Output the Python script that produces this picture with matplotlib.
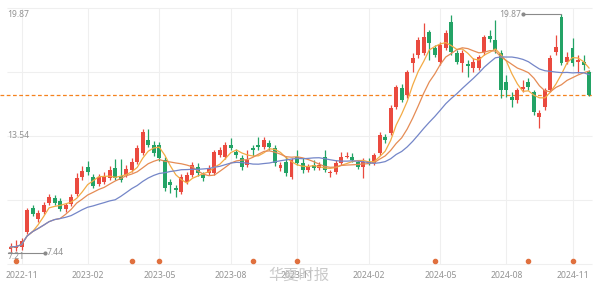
import matplotlib.pyplot as plt
import numpy as np
import pandas as pd

plt.rcParams['font.family'] = ['Noto Sans', 'Noto Sans CJK SC', 'DejaVu Sans']

# weekly candles, 2022-10 .. 2024-11
opens = [7.63, 7.68, 7.73, 8.51, 9.77, 9.19, 9.56, 10.03, 10.29, 10.13,
         9.72, 9.98, 10.50, 11.39, 11.91, 11.39, 11.02, 11.13, 11.33, 11.86,
         11.44, 11.49, 11.75, 12.17, 12.64, 13.32, 13.06, 13.06, 12.27, 11.13,
         10.81, 10.60, 11.13, 11.49, 11.91, 11.49, 11.60, 11.60, 12.53, 12.43,
         13.06, 12.69, 12.38, 12.01, 12.90, 13.06, 12.95, 13.16, 12.90, 11.86,
         12.17, 11.39, 12.43, 12.12, 11.75, 12.01, 11.86, 12.43, 11.60, 11.65,
         12.12, 12.43, 12.43, 12.17, 11.91, 12.17, 12.12, 12.64, 13.47, 13.68,
         15.04, 16.03, 15.67, 17.34, 17.76, 17.86, 18.96, 18.12, 17.39, 18.12,
         19.48, 17.86, 17.34, 17.29, 17.08, 17.08, 17.91, 18.75, 18.54, 17.86,
         16.35, 15.56, 15.41, 15.98, 16.35, 15.82, 14.52, 15.04, 15.93, 17.91,
         19.74, 17.39, 18.12, 17.39, 17.39, 16.87]
highs = [7.94, 8.10, 8.20, 9.77, 9.92, 9.66, 10.08, 10.50, 10.45, 10.29,
         10.03, 10.50, 11.60, 11.96, 12.22, 11.54, 11.54, 11.65, 11.96, 12.33,
         12.33, 12.01, 12.38, 13.06, 13.89, 13.89, 13.27, 13.21, 12.43, 11.28,
         10.97, 11.54, 11.65, 12.17, 12.12, 11.65, 12.01, 12.80, 12.95, 13.21,
         13.42, 12.85, 12.53, 12.80, 13.06, 13.47, 13.47, 13.32, 13.06, 12.17,
         12.48, 12.38, 12.80, 12.38, 12.06, 12.27, 12.17, 12.80, 11.75, 12.27,
         12.69, 12.69, 12.64, 12.27, 12.38, 12.38, 12.64, 13.74, 13.63, 15.15,
         16.19, 16.24, 16.97, 17.86, 18.70, 19.43, 19.06, 18.28, 18.43, 19.06,
         19.84, 18.02, 18.02, 17.49, 17.60, 17.76, 18.80, 19.06, 19.58, 18.02,
         16.71, 15.82, 16.03, 16.45, 16.55, 15.93, 14.88, 16.03, 17.76, 18.80,
         19.87, 17.91, 18.64, 17.76, 17.76, 16.97]
lows = [7.44, 7.52, 7.57, 8.41, 9.35, 9.04, 9.45, 9.92, 9.92, 9.61,
        9.56, 9.87, 10.39, 11.23, 11.49, 10.81, 10.92, 11.02, 11.23, 11.23,
        11.13, 11.39, 11.65, 12.06, 12.53, 12.95, 12.48, 12.22, 10.66, 10.55,
        10.34, 10.50, 11.02, 11.39, 11.44, 11.18, 11.49, 11.49, 12.43, 12.33,
        12.80, 12.38, 11.75, 11.91, 12.48, 12.80, 12.85, 12.80, 11.96, 11.70,
        11.44, 11.28, 12.01, 11.60, 11.65, 11.75, 11.75, 11.65, 11.39, 11.54,
        12.01, 12.38, 12.17, 11.80, 11.33, 12.01, 12.01, 12.53, 13.16, 13.58,
        14.94, 15.30, 15.51, 16.87, 17.60, 17.76, 17.49, 17.65, 17.23, 18.02,
        17.76, 17.29, 16.87, 16.61, 16.87, 16.97, 17.76, 18.43, 17.86, 15.51,
        15.56, 15.04, 15.25, 15.82, 15.93, 14.62, 13.94, 14.88, 15.82, 17.76,
        17.23, 17.29, 17.18, 16.82, 16.97, 15.62]
closes = [7.73, 7.78, 8.04, 9.66, 9.45, 9.51, 9.92, 10.34, 10.03, 9.72,
          9.92, 10.34, 11.33, 11.70, 11.65, 10.92, 11.39, 11.44, 11.75, 11.33,
          11.23, 11.80, 12.17, 12.90, 13.74, 13.06, 12.64, 12.38, 10.81, 10.97,
          10.71, 11.39, 11.49, 12.01, 11.60, 11.33, 11.86, 12.69, 12.80, 13.06,
          12.90, 12.53, 11.91, 12.27, 12.80, 12.95, 13.32, 12.95, 12.12, 12.01,
          11.60, 12.27, 12.12, 11.75, 11.91, 11.86, 12.01, 11.75, 11.65, 12.12,
          12.43, 12.48, 12.27, 11.91, 12.17, 12.06, 12.53, 13.58, 13.32, 14.99,
          16.08, 15.41, 16.87, 17.60, 18.54, 18.70, 18.38, 17.76, 18.28, 18.90,
          17.91, 17.39, 17.86, 17.18, 17.39, 17.65, 18.70, 18.59, 18.02, 15.93,
          15.93, 15.41, 15.93, 16.08, 16.08, 14.78, 14.73, 15.93, 17.60, 18.17,
          17.34, 17.65, 17.34, 17.49, 17.23, 15.67]

tick_idx = [2, 14, 27, 40, 52, 65, 78, 90, 102]
tick_labels = ['2022-11', '2023-02', '2023-05', '2023-08', '2023-11',
               '2024-02', '2024-05', '2024-08', '2024-11']
event_idx = [1, 22, 27, 44, 52, 77, 94, 102]
y_labels = [19.87, 13.54, 7.21]
ma_periods = [5, 10, 20]
ma_colors = ['#f3ab45', '#e58c55', '#7486c8']

UP = '#ea4a3f'
DOWN = '#23a366'
GRID = '#efefef'
TXT = '#929292'

fig = plt.figure(figsize=(6, 2.88), dpi=100)
ax = fig.add_axes([0, 0, 1, 1])
ax.axis('off')
ax.set_xlim(-1.906, 106.99)
ax.set_ylim(5.591, 20.627)

o = np.array(opens)
c = np.array(closes)
h = np.array(highs)
l = np.array(lows)
x = np.arange(len(c))
cols = [UP if cc >= oo else DOWN for oo, cc in zip(o, c)]

# grid
mid = (y_labels[0] + y_labels[2]) / 2
for k in range(-2, 3):
    ax.hlines(mid + k * 3.34, -0.6, 105.6, color=GRID, lw=0.8, zorder=0)
for t in tick_idx:
    ax.vlines(t, mid - 2 * 3.34, mid + 2 * 3.34, color=GRID, lw=0.8, zorder=0)

# candles
ax.vlines(x, l, h, colors=cols, lw=0.9, zorder=2)
body = np.maximum(np.abs(c - o), 0.05)
ax.bar(x, body, bottom=np.minimum(o, c), width=0.72, color=cols, zorder=3)

# moving averages
s = pd.Series(c)
for n, col in zip(ma_periods, ma_colors):
    ax.plot(x, s.rolling(n, min_periods=1).mean(), color=col, lw=0.9, zorder=4)

# latest close
ax.hlines(c[-1], -1.9, 105.6, color='#f5821f', lw=0.9, linestyles=(0, (3, 2)), zorder=1)

# max / min markers
imax = int(np.argmax(h))
imin = int(np.argmin(l))
ax.plot([imax - 7.0, imax], [h[imax]] * 2, color='#8a8a8a', lw=0.8, zorder=5)
ax.plot(imax - 7.0, h[imax], 'o', ms=2, color='#8a8a8a', zorder=5)
ax.text(imax - 7.3, h[imax], f'{h[imax]:.2f}', ha='right', va='center', fontsize=6.2, color=TXT)
ax.plot([imin - 0.5, imin + 6.2], [l[imin]] * 2, color='#8a8a8a', lw=0.8, zorder=5)
ax.plot(imin + 6.2, l[imin], 'o', ms=2, color='#8a8a8a', zorder=5)
ax.text(imin + 6.5, l[imin], f'{l[imin]:.2f}', ha='left', va='center', fontsize=6.2, color=TXT)

# y labels
for v in y_labels:
    ax.text(-0.6, v, f'{v:.2f}', ha='left', va='center', fontsize=6.2, color=TXT)

# event dots
tr = ax.get_xaxis_transform()
ax.scatter(event_idx, [0.094] * len(event_idx), s=9, color='#e0703e', transform=tr, zorder=5)

# date labels
for t, lab in zip(tick_idx, tick_labels):
    ax.text(t, 0.043, lab, ha='center', va='center', fontsize=6.2, color=TXT, transform=tr)

# watermark
ax.text(268 / 600, 0.045, '华夏时报', ha='left', va='center', fontsize=11,
        color='#c4c4c4', alpha=0.9, transform=ax.transAxes,
        family=['Noto Sans CJK SC', 'DejaVu Sans'], zorder=6)

fig.savefig('out.png', dpi=100)
